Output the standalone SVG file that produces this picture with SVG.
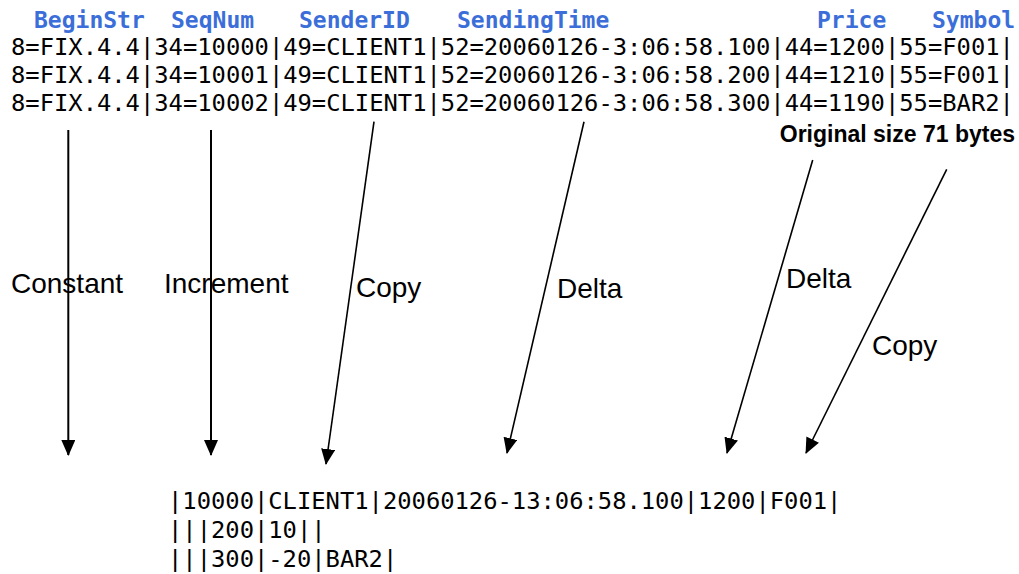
<svg xmlns="http://www.w3.org/2000/svg" width="1019" height="574" viewBox="0 0 1019 574">
  <style>
    .hdr { font-family: "DejaVu Sans Mono", "Liberation Mono", monospace; font-size: 23px; font-weight: bold; fill: #3b6ed8; }
    .msg { font-family: "DejaVu Sans Mono", "Liberation Mono", monospace; font-size: 23.8px; fill: #000; }
    .lbl { font-family: "Liberation Sans", Arial, sans-serif; font-size: 28px; fill: #000; }
    .note { font-family: "Liberation Sans", Arial, sans-serif; font-size: 23px; font-weight: bold; fill: #000; }
    .arrow { stroke: #000; stroke-width: 2; fill: none; marker-end: url(#head); }
    .slant { stroke-width: 1.6; }
  </style>
  <defs>
    <marker id="head" viewBox="0 0 16 14" refX="15" refY="7" markerWidth="16" markerHeight="14" markerUnits="userSpaceOnUse" orient="auto">
      <path d="M0,0 L16,7 L0,14 Z" fill="#000"/>
    </marker>
  </defs>
  <rect width="1019" height="574" fill="#fff"/>

  <!-- field names -->
  <g id="headers">
    <text class="hdr" x="34" y="28">BeginStr</text>
    <text class="hdr" x="171" y="28">SeqNum</text>
    <text class="hdr" x="299" y="28">SenderID</text>
    <text class="hdr" x="457" y="28">SendingTime</text>
    <text class="hdr" x="817" y="28">Price</text>
    <text class="hdr" x="932" y="28">Symbol</text>
  </g>

  <!-- raw FIX messages -->
  <g id="messages">
    <text class="msg" x="11" y="55">8=FIX.4.4|34=10000|49=CLIENT1|52=20060126-3:06:58.100|44=1200|55=F001|</text>
    <text class="msg" x="11" y="83">8=FIX.4.4|34=10001|49=CLIENT1|52=20060126-3:06:58.200|44=1210|55=F001|</text>
    <text class="msg" x="11" y="111">8=FIX.4.4|34=10002|49=CLIENT1|52=20060126-3:06:58.300|44=1190|55=BAR2|</text>
    <text class="note" x="1015" y="142" text-anchor="end">Original size 71 bytes</text>
  </g>

  <!-- encoding operators -->
  <g id="connectors">
    <line class="arrow" x1="68.3" y1="130" x2="68.3" y2="455"/>
    <line class="arrow" x1="211" y1="130" x2="211" y2="455"/>
    <line class="arrow slant" x1="374" y1="121.7" x2="326" y2="464"/>
    <line class="arrow slant" x1="584" y1="121.7" x2="507" y2="453"/>
    <line class="arrow slant" x1="812.7" y1="160" x2="727" y2="453"/>
    <line class="arrow slant" x1="946.7" y1="169.3" x2="806" y2="453"/>
  </g>

  <g id="label-constant"><text class="lbl" x="11" y="293">Constant</text></g>
  <g id="label-increment"><text class="lbl" x="164" y="293">Increment</text></g>
  <g id="label-copy-sender"><text class="lbl" x="356" y="297">Copy</text></g>
  <g id="label-delta-time"><text class="lbl" x="557" y="298">Delta</text></g>
  <g id="label-delta-price"><text class="lbl" x="786" y="288">Delta</text></g>
  <g id="label-copy-symbol"><text class="lbl" x="872" y="355">Copy</text></g>

  <!-- encoded stream -->
  <g id="encoded">
    <text class="msg" x="168" y="509">|10000|CLIENT1|20060126-13:06:58.100|1200|F001|</text>
    <text class="msg" x="168" y="538">|||200|10||</text>
    <text class="msg" x="168" y="567">|||300|-20|BAR2|</text>
  </g>
</svg>
